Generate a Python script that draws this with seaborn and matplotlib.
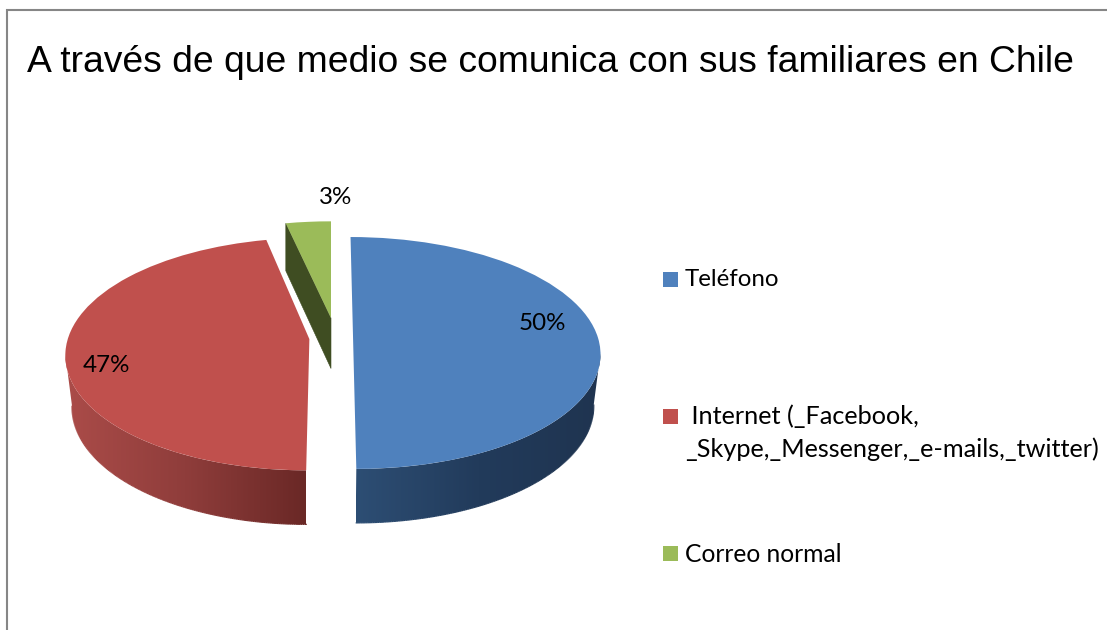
import numpy as np
import matplotlib
matplotlib.use("Agg")
import matplotlib.pyplot as plt
import seaborn as sns
from matplotlib.collections import LineCollection
from matplotlib.colors import to_rgb
from matplotlib.lines import Line2D
from matplotlib.patches import Rectangle, Polygon
from matplotlib.transforms import Transform

# ---- data -------------------------------------------------------------
title = "A través de que medio se comunica con sus familiares en Chile"
categories = ["Teléfono",
              " Internet (_Facebook,\n_Skype,_Messenger,_e-mails,_twitter)",
              "Correo normal"]
values = [50, 46.6, 3.4]
explode = [0.09, 0.09, 0.18]
x_scales = [1.0, 0.985, 1.0]
colors = sns.color_palette(["#4f81bd", "#c0504d", "#9bbb59"])
side_stops = [["#2d4e74", "#223b5b", "#1f3450"],
              ["#ab4c49", "#8f3d3b", "#6a2826"],
              ["#3f4d22", "#3f4d22", "#3f4d22"]]
cut_face_colour = "#3f4d22"
label_xy = [(542, 324), (106, 366), (336, 198)]
legend_swatch_y = [279.5, 416.5, 553.5]
legend_text_xy = [(685, 280), (685, 433), (685, 554)]
legend_sizes = [17.4, 18.2, 17.7]

# ---- view of the 3-D pie (pixels) --------------------------------------
CX, CY = 331.0, 338.0
A, B, K = 114.0, 245.0, 0.129
BOTTOM_SHRINK = 0.975


class Perspective(Transform):
    input_dims = output_dims = 2

    def __init__(self, sx=1.0):
        super().__init__()
        self.sx = sx

    def transform_non_affine(self, xy):
        xy = np.asarray(xy, dtype=float)
        w = 1 + K * xy[:, 1]
        return np.column_stack([CX + self.sx * B * xy[:, 0] / w, CY - A * xy[:, 1] / w])


def depth(y):
    return 51.0 - 3.0 * y


def extrude(pix, yw):
    return np.column_stack([CX + (pix[:, 0] - CX) * BOTTOM_SHRINK, pix[:, 1] + depth(yw)])


sns.set_theme(style="white")
plt.rcParams["font.family"] = ["Lato", "DejaVu Sans"]

fig = plt.figure(figsize=(11.07, 6.30), dpi=100, facecolor="white")
ax = fig.add_axes([0, 0, 1, 1])
wedges, _, pct = ax.pie(values, explode=explode, colors=colors, startangle=90,
                        counterclock=False, autopct="%.0f%%",
                        wedgeprops=dict(linewidth=0),
                        textprops=dict(fontsize=17.4, color="black"))
wedges[2].set_center((0.0, wedges[2].center[1]))

for wedge, sx, stops in zip(wedges, x_scales, side_stops):
    persp = Perspective(sx)
    wedge.set_transform(persp + ax.transData)
    wedge.set_zorder(5)
    cx, cy = wedge.center
    r = wedge.r
    th = np.radians(np.linspace(wedge.theta1, wedge.theta2, 361))
    th = th[np.sin(th) <= -K]           # only the rim that faces the viewer
    if th.size < 2:
        continue
    xw = cx + r * np.cos(th)
    yw = cy + r * np.sin(th)
    pix = persp.transform_non_affine(np.column_stack([xw, yw]))
    low = extrude(pix, yw)
    x0, x1 = pix[:, 0].min(), pix[:, 0].max()
    rgb = np.array([to_rgb(c) for c in stops])
    u = np.linspace(0, 1, 256)
    band = np.column_stack([np.interp(u, [0, .5, 1], rgb[:, i]) for i in range(3)])[None, :, :]
    y0, y1 = pix[:, 1].min(), low[:, 1].max()
    im = ax.imshow(band, extent=(x0, x1, y1, y0), aspect="auto", zorder=2,
                   interpolation="bilinear")
    im.set_clip_path(Polygon(np.vstack([pix, low[::-1]]), closed=True, transform=ax.transData))
    # soften the clipped lower rim
    t = np.clip((low[:, 0] - x0) / (x1 - x0), 0, 1)
    shade = np.column_stack([np.interp(t, [0, .5, 1], rgb[:, i]) for i in range(3)])
    segs = np.stack([low[:-1], low[1:]], axis=1)
    ax.add_collection(LineCollection(segs, colors=shade[:-1], linewidths=0.9, zorder=3))

ax.set_aspect("auto")
ax.set_xlim(0, 1107)
ax.set_ylim(630, 0)
ax.axis("off")

# visible cut face of the small exploded slice
g = wedges[2]
gx, gy = g.center
th = np.radians(g.theta2)
yw = np.array([gy, gy + g.r * np.sin(th)])
edge = Perspective().transform_non_affine(np.column_stack([[gx, gx + g.r * np.cos(th)], yw]))
drop = edge + np.column_stack([np.zeros(2), depth(yw)])
ax.add_patch(Polygon([edge[0], edge[1], drop[1], drop[0]], closed=True,
                     facecolor=cut_face_colour, edgecolor=cut_face_colour, lw=0.4, zorder=3))

for text, xy in zip(pct, label_xy):
    text.set_position(xy)
    text.set_ha("center")
    text.set_va("center")
    text.set_zorder(8)

# ---- legend ------------------------------------------------------------
for colour, y, label, xy, size in zip(colors, legend_swatch_y, categories, legend_text_xy, legend_sizes):
    ax.add_patch(Rectangle((663, y - 7.5), 15, 15, facecolor=colour, edgecolor="none"))
    ax.text(xy[0], xy[1], label, fontsize=size, color="black", ha="left", va="center",
            linespacing=1.5)

# ---- title and frame ---------------------------------------------------
ax.text(27, 62, title, fontsize=26.85, color="black", ha="left", va="center",
        family=["Liberation Sans", "DejaVu Sans"])
fig.add_artist(Line2D([6.5 / 1107, 6.5 / 1107, 1], [0, 1 - 10 / 630, 1 - 10 / 630],
                      color="#868686", lw=1.5, solid_joinstyle="miter"))

fig.savefig("out.png", dpi=100, facecolor="white")
